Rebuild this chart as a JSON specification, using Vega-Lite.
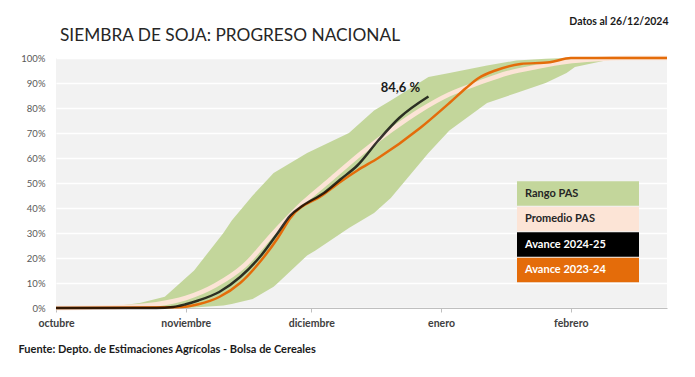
{
  "$schema": "https://vega.github.io/schema/vega-lite/v6.json",
  "width": 611,
  "height": 250,
  "autosize": {"type": "none"},
  "padding": {"left": 56, "top": 58, "right": 28, "bottom": 69},
  "background": "white",
  "title": {
    "text": "SIEMBRA DE SOJA: PROGRESO NACIONAL",
    "anchor": "start",
    "frame": "group",
    "font": "Lato",
    "fontSize": 17.3,
    "fontWeight": "normal",
    "color": "#262626",
    "baseline": "alphabetic",
    "offset": 18,
    "dx": 4,
    "dy": 60
  },
  "datasets": {
    "rango": [
      {"date": "2024-10-01", "lo": 0, "hi": 0},
      {"date": "2024-10-14", "lo": 0, "hi": 0.5},
      {"date": "2024-10-21", "lo": 0, "hi": 2},
      {"date": "2024-10-27", "lo": 0, "hi": 4.5},
      {"date": "2024-11-01", "lo": 0, "hi": 12},
      {"date": "2024-11-03", "lo": 0.2, "hi": 15},
      {"date": "2024-11-10", "lo": 1, "hi": 30},
      {"date": "2024-11-12", "lo": 1.6, "hi": 35},
      {"date": "2024-11-17", "lo": 3.6, "hi": 45},
      {"date": "2024-11-22", "lo": 8.5, "hi": 54},
      {"date": "2024-11-23", "lo": 10, "hi": 55},
      {"date": "2024-11-30", "lo": 21, "hi": 62},
      {"date": "2024-12-02", "lo": 23, "hi": 63.6},
      {"date": "2024-12-10", "lo": 32, "hi": 70},
      {"date": "2024-12-16", "lo": 38, "hi": 79},
      {"date": "2024-12-20", "lo": 44, "hi": 83},
      {"date": "2024-12-27", "lo": 58, "hi": 90.3},
      {"date": "2024-12-29", "lo": 62, "hi": 92.4},
      {"date": "2025-01-03", "lo": 71, "hi": 94},
      {"date": "2025-01-12", "lo": 82, "hi": 97},
      {"date": "2025-01-19", "lo": 86, "hi": 99},
      {"date": "2025-01-26", "lo": 90, "hi": 99.7},
      {"date": "2025-01-31", "lo": 94, "hi": 100},
      {"date": "2025-02-02", "lo": 96.4, "hi": 100},
      {"date": "2025-02-11", "lo": 99.6, "hi": 100},
      {"date": "2025-02-13", "lo": 100, "hi": 100},
      {"date": "2025-02-24", "lo": 100, "hi": 100}
    ],
    "lineas": [
      {"serie": "Promedio PAS", "date": "2024-10-01", "value": 0},
      {"serie": "Promedio PAS", "date": "2024-10-15", "value": 0.3},
      {"serie": "Promedio PAS", "date": "2024-10-25", "value": 1.5},
      {"serie": "Promedio PAS", "date": "2024-11-01", "value": 4},
      {"serie": "Promedio PAS", "date": "2024-11-08", "value": 9},
      {"serie": "Promedio PAS", "date": "2024-11-15", "value": 17},
      {"serie": "Promedio PAS", "date": "2024-11-22", "value": 30},
      {"serie": "Promedio PAS", "date": "2024-11-29", "value": 42},
      {"serie": "Promedio PAS", "date": "2024-12-06", "value": 52},
      {"serie": "Promedio PAS", "date": "2024-12-13", "value": 62},
      {"serie": "Promedio PAS", "date": "2024-12-20", "value": 71},
      {"serie": "Promedio PAS", "date": "2024-12-27", "value": 79},
      {"serie": "Promedio PAS", "date": "2025-01-03", "value": 85.5},
      {"serie": "Promedio PAS", "date": "2025-01-10", "value": 90},
      {"serie": "Promedio PAS", "date": "2025-01-17", "value": 94},
      {"serie": "Promedio PAS", "date": "2025-01-24", "value": 96.5},
      {"serie": "Promedio PAS", "date": "2025-01-31", "value": 98.5},
      {"serie": "Promedio PAS", "date": "2025-02-07", "value": 99.5},
      {"serie": "Promedio PAS", "date": "2025-02-14", "value": 100},
      {"serie": "Promedio PAS", "date": "2025-02-24", "value": 100},
      {"serie": "Avance 2023-24", "date": "2024-10-01", "value": 0},
      {"serie": "Avance 2023-24", "date": "2024-10-30", "value": 0.3},
      {"serie": "Avance 2023-24", "date": "2024-11-04", "value": 1.5},
      {"serie": "Avance 2023-24", "date": "2024-11-09", "value": 4.4},
      {"serie": "Avance 2023-24", "date": "2024-11-14", "value": 10},
      {"serie": "Avance 2023-24", "date": "2024-11-19", "value": 19},
      {"serie": "Avance 2023-24", "date": "2024-11-23", "value": 28},
      {"serie": "Avance 2023-24", "date": "2024-11-26", "value": 36},
      {"serie": "Avance 2023-24", "date": "2024-12-04", "value": 45.5},
      {"serie": "Avance 2023-24", "date": "2024-12-08", "value": 50.5},
      {"serie": "Avance 2023-24", "date": "2024-12-12", "value": 55},
      {"serie": "Avance 2023-24", "date": "2024-12-17", "value": 60},
      {"serie": "Avance 2023-24", "date": "2024-12-27", "value": 72},
      {"serie": "Avance 2023-24", "date": "2025-01-03", "value": 82},
      {"serie": "Avance 2023-24", "date": "2025-01-07", "value": 88},
      {"serie": "Avance 2023-24", "date": "2025-01-10", "value": 92},
      {"serie": "Avance 2023-24", "date": "2025-01-14", "value": 95},
      {"serie": "Avance 2023-24", "date": "2025-01-20", "value": 97.6},
      {"serie": "Avance 2023-24", "date": "2025-01-27", "value": 98.3},
      {"serie": "Avance 2023-24", "date": "2025-02-01", "value": 100},
      {"serie": "Avance 2023-24", "date": "2025-02-24", "value": 100},
      {"serie": "Avance 2024-25", "date": "2024-10-01", "value": 0},
      {"serie": "Avance 2024-25", "date": "2024-10-25", "value": 0},
      {"serie": "Avance 2024-25", "date": "2024-10-29", "value": 0.4},
      {"serie": "Avance 2024-25", "date": "2024-11-01", "value": 1.5},
      {"serie": "Avance 2024-25", "date": "2024-11-04", "value": 3},
      {"serie": "Avance 2024-25", "date": "2024-11-09", "value": 6.4},
      {"serie": "Avance 2024-25", "date": "2024-11-14", "value": 12.4},
      {"serie": "Avance 2024-25", "date": "2024-11-19", "value": 21},
      {"serie": "Avance 2024-25", "date": "2024-11-23", "value": 30},
      {"serie": "Avance 2024-25", "date": "2024-11-26", "value": 37},
      {"serie": "Avance 2024-25", "date": "2024-11-29", "value": 41},
      {"serie": "Avance 2024-25", "date": "2024-12-04", "value": 46},
      {"serie": "Avance 2024-25", "date": "2024-12-08", "value": 51.5},
      {"serie": "Avance 2024-25", "date": "2024-12-12", "value": 57},
      {"serie": "Avance 2024-25", "date": "2024-12-17", "value": 67},
      {"serie": "Avance 2024-25", "date": "2024-12-22", "value": 76},
      {"serie": "Avance 2024-25", "date": "2024-12-29", "value": 84.6}
    ],
    "etiqueta": [
      {"date": "2024-12-29", "value": 84.6, "label": "84,6 %"}
    ]
  },
  "config": {
    "view": {"fill": "#f2f2f2", "stroke": null},
    "font": "Lato"
  },
  "resolve": {"axis": {"x": "independent", "y": "independent"}},
  "layer": [
    {
      "data": {"name": "rango"},
      "mark": {"type": "area", "interpolate": "linear", "opacity": 1},
      "encoding": {
        "x": {
          "field": "date",
          "type": "temporal",
          "scale": {
            "type": "utc",
            "domain": [
              {"year": 2024, "month": 10, "date": 1, "utc": true},
              {"year": 2025, "month": 2, "date": 24, "utc": true}
            ]
          },
          "axis": {
            "values": [
              {"year": 2024, "month": 10, "date": 1, "utc": true},
              {"year": 2024, "month": 11, "date": 1, "utc": true},
              {"year": 2024, "month": 12, "date": 1, "utc": true},
              {"year": 2025, "month": 1, "date": 1, "utc": true},
              {"year": 2025, "month": 2, "date": 1, "utc": true}
            ],
            "labelExpr": "['enero','febrero','marzo','abril','mayo','junio','julio','agosto','septiembre','octubre','noviembre','diciembre'][utcmonth(datum.value)]",
            "labelFont": "Lato",
            "labelFontSize": 10.5,
            "labelFontWeight": "bold",
            "labelColor": "#404040",
            "labelPadding": 6,
            "labelFlush": false,
            "labelAlign": "center",
            "labelOverlap": false,
            "grid": false,
            "domainColor": "#bfbfbf",
            "domainWidth": 1,
            "tickColor": "#bfbfbf",
            "tickSize": 4,
            "title": "Fuente: Depto. de Estimaciones Agrícolas - Bolsa de Cereales",
            "titleFont": "Lato",
            "titleFontSize": 11,
            "titleFontWeight": "bold",
            "titleColor": "#1a1a1a",
            "titleAnchor": "start",
            "titleAlign": "left",
            "titleBaseline": "alphabetic",
            "titleX": -38,
            "titleY": 44
          }
        },
        "y": {
          "field": "lo",
          "type": "quantitative",
          "scale": {"domain": [0, 100], "nice": false},
          "axis": {
            "values": [0, 10, 20, 30, 40, 50, 60, 70, 80, 90, 100],
            "labelExpr": "datum.value + '%'",
            "labelFont": "Lato",
            "labelFontSize": 9.5,
            "labelColor": "#595959",
            "labelPadding": 11,
            "labelOverlap": false,
            "labelFlush": false,
            "domain": false,
            "ticks": false,
            "grid": true,
            "gridColor": "#ffffff",
            "gridWidth": 1.5,
            "title": null
          }
        },
        "y2": {"field": "hi"},
        "color": {
          "datum": "Rango PAS",
          "scale": {
            "domain": ["Rango PAS", "Promedio PAS", "Avance 2024-25", "Avance 2023-24"],
            "range": ["#c3d69b", "#fce4d6", "#000000", "#e46c0a"]
          },
          "legend": {
            "title": null,
            "orient": "none",
            "legendX": 461,
            "legendY": 123,
            "direction": "vertical",
            "symbolType": "M-1,-0.984H8.76V0.984H-1Z",
            "symbolSize": 625,
            "symbolStrokeWidth": 0,
            "labelOffset": -17,
            "labelFont": "Lato",
            "labelFontSize": 11,
            "labelFontWeight": "bold",
            "labelColor": {"expr": "datum.value === 'Avance 2024-25' || datum.value === 'Avance 2023-24' ? '#ffffff' : '#262626'"},
            "labelLimit": 300,
            "rowPadding": 0.5
          }
        }
      }
    },
    {
      "data": {"name": "lineas"},
      "transform": [{"filter": "datum.serie === 'Promedio PAS'"}],
      "mark": {"type": "line", "interpolate": "monotone", "strokeWidth": 4.5},
      "encoding": {
        "x": {"field": "date", "type": "temporal", "axis": null},
        "y": {"field": "value", "type": "quantitative", "axis": null},
        "color": {"datum": "Promedio PAS"}
      }
    },
    {
      "data": {"name": "lineas"},
      "transform": [{"filter": "datum.serie === 'Avance 2023-24'"}],
      "mark": {"type": "line", "interpolate": "monotone", "strokeWidth": 2.5},
      "encoding": {
        "x": {"field": "date", "type": "temporal", "axis": null},
        "y": {"field": "value", "type": "quantitative", "axis": null},
        "color": {"datum": "Avance 2023-24"}
      }
    },
    {
      "data": {"name": "lineas"},
      "transform": [{"filter": "datum.serie === 'Avance 2024-25'"}],
      "mark": {"type": "line", "interpolate": "monotone", "strokeWidth": 2.5, "opacity": 0.78},
      "encoding": {
        "x": {"field": "date", "type": "temporal", "axis": null},
        "y": {"field": "value", "type": "quantitative", "axis": null},
        "color": {"datum": "Avance 2024-25"}
      }
    },
    {
      "data": {"name": "etiqueta"},
      "mark": {"type": "text", "font": "Lato", "fontSize": 13, "fontWeight": "bold", "color": "#1a1a1a", "dx": -28, "dy": -9, "baseline": "middle", "align": "center"},
      "encoding": {
        "x": {
          "field": "date",
          "type": "temporal",
          "axis": {
            "orient": "top",
            "labels": false,
            "ticks": false,
            "domain": false,
            "grid": false,
            "title": "Datos al 26/12/2024",
            "titleFont": "Lato",
            "titleFontSize": 10.5,
            "titleFontWeight": "bold",
            "titleColor": "#1a1a1a",
            "titleAnchor": "end",
            "titleAlign": "right",
            "titleBaseline": "alphabetic",
            "titleX": 612,
            "titleY": -34
          }
        },
        "y": {"field": "value", "type": "quantitative", "axis": null},
        "text": {"field": "label"}
      }
    }
  ]
}
